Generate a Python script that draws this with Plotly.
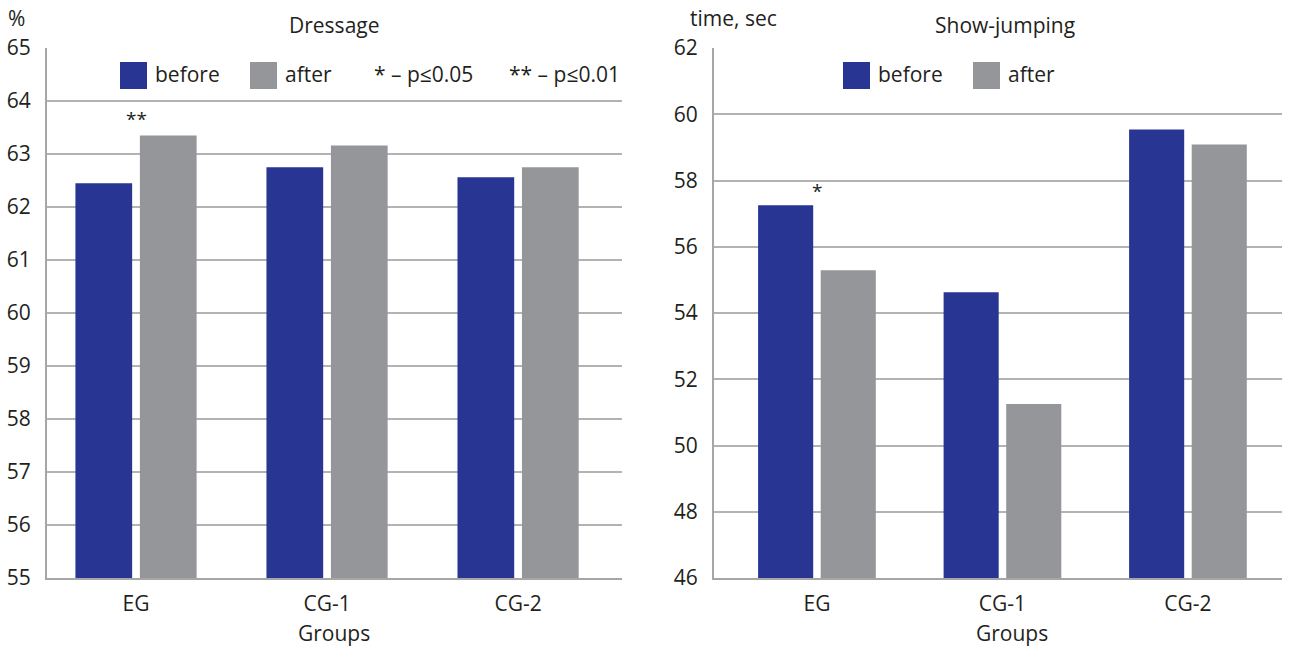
import plotly.graph_objects as go

# ---- data ----
groups = ["EG", "CG-1", "CG-2"]
dressage_before = [62.45, 62.75, 62.56]
dressage_after = [63.35, 63.16, 62.75]
jumping_before = [57.25, 54.63, 59.54]
jumping_after = [55.29, 51.25, 59.09]
series_names = ["before", "after"]
colors = ["#283593", "#95969a"]
dressage_ticks = list(range(55, 66))
jumping_ticks = list(range(46, 63, 2))
left_title = "Dressage"
right_title = "Show-jumping"
left_unit = "%"
right_unit = "time, sec"
x_title = "Groups"
sig_left = "**"   # over EG, dressage
sig_right = "*"   # over EG, jumping
sig_notes = ["* – p≤0.05", "** – p≤0.01"]

W, H = 1292, 646
FONT = "Open Sans"
FS = 21
TXT = "#231f20"
GRID = "#b3b3b3"

def px(x):
    return x / W

def py(y):
    return 1 - y / H

fig = go.Figure()
for vals, name, col in zip([dressage_before, dressage_after], series_names, colors):
    fig.add_trace(go.Bar(x=groups, y=vals, name=name, marker_color=col,
                         marker_line_width=0, showlegend=False,
                         xaxis="x", yaxis="y"))
for vals, name, col in zip([jumping_before, jumping_after], series_names, colors):
    fig.add_trace(go.Bar(x=groups, y=vals, name=name, marker_color=col,
                         marker_line_width=0, showlegend=False,
                         xaxis="x2", yaxis="y2"))

ydom = [py(578), py(48)]
xaxis_common = dict(showgrid=False, showline=True, linecolor="#a6a6a6", linewidth=2,
                    ticks="", tickfont=dict(family=FONT, size=FS, color=TXT),
                    ticklabelstandoff=6, fixedrange=True, automargin=False)
yaxis_common = dict(showgrid=True, gridcolor=GRID, gridwidth=2, showline=True,
                    linecolor="#a6a6a6", linewidth=2, ticks="", zeroline=False,
                    tickfont=dict(family=FONT, size=FS, color=TXT),
                    ticklabelstandoff=10, automargin=False, fixedrange=True)

fig.update_layout(
    width=W, height=H,
    margin=dict(l=0, r=0, t=0, b=0, autoexpand=False),
    paper_bgcolor="white", plot_bgcolor="white",
    barmode="group", bargap=0.325, bargroupgap=0.12,
    font=dict(family=FONT, color=TXT),
    xaxis=dict(domain=[px(47), px(622)], anchor="y", range=[-0.466, 2.544],
               **xaxis_common),
    xaxis2=dict(domain=[px(714), px(1282)], anchor="y2", range=[-0.555, 2.507],
                **xaxis_common),
    yaxis=dict(domain=ydom, anchor="x", range=[55, 65], tickvals=dressage_ticks,
               **yaxis_common),
    yaxis2=dict(domain=ydom, anchor="x2", range=[46, 62], tickvals=jumping_ticks,
                **yaxis_common),
)

ann = []

def text_at(text, x, y, xanchor="center", size=FS):
    ann.append(dict(text=text, x=px(x), y=py(y), xref="paper", yref="paper",
                    xanchor=xanchor, yanchor="middle", showarrow=False,
                    font=dict(size=size, family=FONT, color=TXT)))

# titles and units
text_at(left_title, 334, 25)
text_at(right_title, 1005, 25)
text_at(left_unit, 16, 18)
text_at(right_unit, 733, 18)
text_at(x_title, 334, 633)
text_at(x_title, 1012, 633)

# significance marks
ann.append(dict(text=sig_left, x=groups[0], y=max(dressage_before[0], dressage_after[0]),
                xref="x", yref="y", showarrow=False, yshift=16,
                xanchor="center", yanchor="middle",
                font=dict(size=19, family=FONT, color=TXT)))
ann.append(dict(text=sig_right, x=groups[0], y=max(jumping_before[0], jumping_after[0]),
                xref="x2", yref="y2", showarrow=False, yshift=14,
                xanchor="center", yanchor="middle",
                font=dict(size=19, family=FONT, color=TXT)))

# legends (boxes + labels)
shapes = []
def legend_item(x0, label, color):
    shapes.append(dict(type="rect", xref="paper", yref="paper",
                       x0=px(x0), x1=px(x0 + 27), y0=py(89), y1=py(62),
                       fillcolor=color, line_width=0))
    text_at(label, x0 + 33, 74, xanchor="left")

legend_item(120, series_names[0], colors[0])
legend_item(250, series_names[1], colors[1])
legend_item(843, series_names[0], colors[0])
legend_item(973, series_names[1], colors[1])
for xl, note in zip([372, 507], sig_notes):
    text_at(note, xl, 74, xanchor="left")

fig.update_layout(annotations=ann, shapes=shapes)
fig.write_html("out.html", config={"displayModeBar": False},
               post_script="document.body.style.margin='0';")
